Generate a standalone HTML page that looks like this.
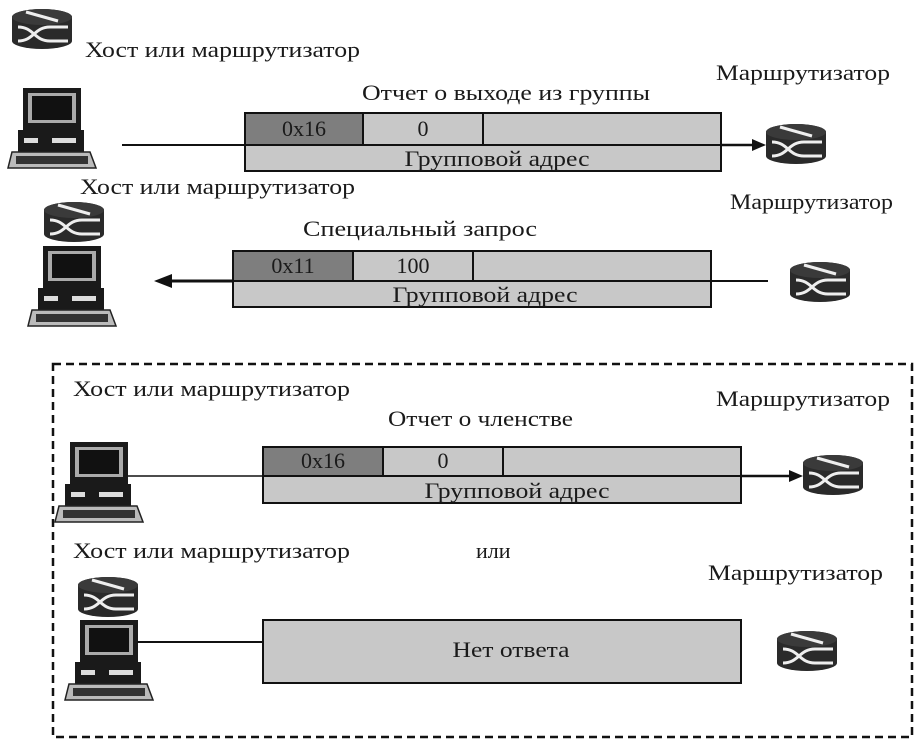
<!DOCTYPE html>
<html><head><meta charset="utf-8"><style>
html,body{margin:0;padding:0;background:#fff;}
svg text{font-family:"Liberation Serif",serif;fill:#1a1a1a;}
</style></head><body>
<svg width="920" height="746" viewBox="0 0 920 746" xmlns="http://www.w3.org/2000/svg">
<defs>
<g id="rt">
<path d="M0,8 A30,8 0 0 1 60,8 L60,32 A30,8 0 0 1 0,32 Z" fill="#2a2a2a"/>
<ellipse cx="30" cy="8" rx="30" ry="8" fill="#3a3a3a"/>
<line x1="14" y1="3" x2="46" y2="12" stroke="#eee" stroke-width="3"/>
<path d="M6,18 C22,18 22,32 38,32 M6,32 C22,32 22,18 38,18 L56,18 M38,32 L56,32" stroke="#eee" stroke-width="3" fill="none"/>
</g>
<g id="pc">
<rect x="15" y="0" width="58" height="42" fill="#1a1a1a"/>
<rect x="20" y="5" width="48" height="30" fill="#aaa"/>
<rect x="24" y="8" width="40" height="24" fill="#111"/>
<rect x="10" y="42" width="66" height="22" fill="#1a1a1a"/>
<rect x="16" y="50" width="14" height="5" fill="#ddd"/>
<rect x="44" y="50" width="24" height="5" fill="#ddd"/>
<path d="M4,64 L82,64 L88,80 L0,80 Z" fill="#bbb" stroke="#222" stroke-width="1.5"/>
<rect x="8" y="68" width="72" height="8" fill="#333"/>
</g>
</defs>

<use href="#rt" x="12" y="9"/>
<text x="85" y="57" font-size="22" textLength="275" lengthAdjust="spacingAndGlyphs">Хост или маршрутизатор</text>
<use href="#pc" x="8" y="88"/>
<text x="362" y="100" font-size="22" textLength="288" lengthAdjust="spacingAndGlyphs">Отчет  о выходе из группы</text>
<text x="716" y="80" font-size="22" textLength="174" lengthAdjust="spacingAndGlyphs">Маршрутизатор</text>
<line x1="122" y1="145" x2="245" y2="145" stroke="#111" stroke-width="2"/>
<rect x="245" y="113" width="476" height="58" fill="#c8c8c8" stroke="#111" stroke-width="2"/>
<rect x="245" y="113" width="118" height="32" fill="#7e7e7e" stroke="#111" stroke-width="2"/>
<line x1="483" y1="113" x2="483" y2="145" stroke="#111" stroke-width="2"/>
<line x1="245" y1="145" x2="721" y2="145" stroke="#111" stroke-width="2"/>
<text x="304" y="136" font-size="22" text-anchor="middle">0x16</text>
<text x="423" y="136" font-size="22" text-anchor="middle">0</text>
<text x="497" y="166" font-size="22" text-anchor="middle" textLength="185" lengthAdjust="spacingAndGlyphs">Групповой адрес</text>
<line x1="721" y1="145" x2="755" y2="145" stroke="#111" stroke-width="2.5"/>
<path d="M766,145 L752,139 L752,151 Z" fill="#111"/>
<use href="#rt" x="766" y="124"/>

<text x="80" y="194" font-size="22" textLength="275" lengthAdjust="spacingAndGlyphs">Хост или маршрутизатор</text>
<use href="#rt" x="44" y="202"/>
<use href="#pc" x="28" y="246"/>
<text x="303" y="236" font-size="22" textLength="234" lengthAdjust="spacingAndGlyphs">Специальный запрос</text>
<text x="730" y="209" font-size="22" textLength="163" lengthAdjust="spacingAndGlyphs">Маршрутизатор</text>
<rect x="233" y="251" width="478" height="56" fill="#c8c8c8" stroke="#111" stroke-width="2"/>
<rect x="233" y="251" width="120" height="30" fill="#7e7e7e" stroke="#111" stroke-width="2"/>
<line x1="473" y1="251" x2="473" y2="281" stroke="#111" stroke-width="2"/>
<line x1="233" y1="281" x2="768" y2="281" stroke="#111" stroke-width="2"/>
<text x="293" y="273" font-size="22" text-anchor="middle">0x11</text>
<text x="413" y="273" font-size="22" text-anchor="middle">100</text>
<text x="485" y="302" font-size="22" text-anchor="middle" textLength="185" lengthAdjust="spacingAndGlyphs">Групповой адрес</text>
<line x1="168" y1="281" x2="233" y2="281" stroke="#111" stroke-width="3"/>
<path d="M154,281 L172,274 L172,288 Z" fill="#111"/>
<use href="#rt" x="790" y="262"/>

<rect x="53" y="364" width="859" height="373" fill="none" stroke="#111" stroke-width="2.5" stroke-dasharray="8,5"/>
<text x="73" y="396" font-size="22" textLength="277" lengthAdjust="spacingAndGlyphs">Хост или маршрутизатор</text>
<text x="716" y="406" font-size="22" textLength="174" lengthAdjust="spacingAndGlyphs">Маршрутизатор</text>
<text x="388" y="426" font-size="22" textLength="185" lengthAdjust="spacingAndGlyphs">Отчет о членстве</text>
<use href="#pc" x="55" y="442"/>
<line x1="128" y1="476" x2="263" y2="476" stroke="#111" stroke-width="1.5"/>
<rect x="263" y="447" width="478" height="56" fill="#c8c8c8" stroke="#111" stroke-width="2"/>
<rect x="263" y="447" width="120" height="29" fill="#7e7e7e" stroke="#111" stroke-width="2"/>
<line x1="503" y1="447" x2="503" y2="476" stroke="#111" stroke-width="2"/>
<line x1="263" y1="476" x2="741" y2="476" stroke="#111" stroke-width="2"/>
<text x="323" y="468" font-size="22" text-anchor="middle">0x16</text>
<text x="443" y="468" font-size="22" text-anchor="middle">0</text>
<text x="517" y="498" font-size="22" text-anchor="middle" textLength="185" lengthAdjust="spacingAndGlyphs">Групповой адрес</text>
<line x1="741" y1="476" x2="792" y2="476" stroke="#111" stroke-width="2.5"/>
<path d="M803,476 L789,470 L789,482 Z" fill="#111"/>
<use href="#rt" x="803" y="455"/>

<text x="73" y="558" font-size="22" textLength="277" lengthAdjust="spacingAndGlyphs">Хост или маршрутизатор</text>
<text x="476" y="558" font-size="22">или</text>
<text x="708" y="580" font-size="22" textLength="175" lengthAdjust="spacingAndGlyphs">Маршрутизатор</text>
<use href="#rt" x="78" y="577"/>
<use href="#pc" x="65" y="620"/>
<line x1="137" y1="642" x2="263" y2="642" stroke="#111" stroke-width="2"/>
<rect x="263" y="620" width="478" height="63" fill="#c8c8c8" stroke="#111" stroke-width="2"/>
<text x="511" y="657" font-size="22" text-anchor="middle" textLength="117" lengthAdjust="spacingAndGlyphs">Нет ответа</text>
<use href="#rt" x="777" y="631"/>
</svg>
</body></html>
